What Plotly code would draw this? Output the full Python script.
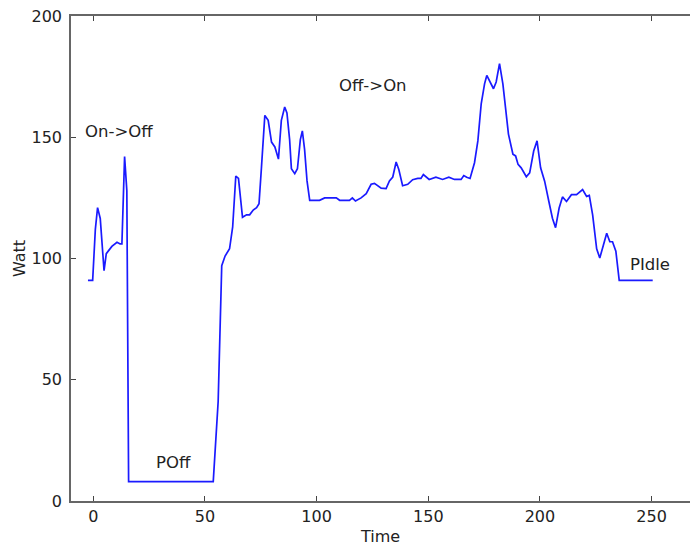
import plotly.graph_objects as go

time = [-2.4, -0.3, 0.9, 1.9, 3.1, 4.8, 5.8, 8.3, 10.6, 12.0, 12.8, 14.0, 15.0, 15.8,
        53.7, 55.9, 57.5, 59, 61, 62.4, 63.8, 65,
        66.8, 68.6, 70, 71.6, 73.1, 74.2, 75.3, 76.8, 78.3, 79.8,
        81.3, 82.9, 84.2, 85.7, 86.7, 87.9, 88.7, 90.2, 91.4, 92.7,
        93.6, 94.6, 95.7, 96.9, 101.3, 103.6, 108.8, 110.3, 114.7, 116,
        117.4, 119.9, 122.2, 124.4, 125.9, 128.9, 131.1, 132.6, 134.1, 135.6,
        136.8, 138.5, 140.8, 143, 145.3, 146.7, 147.8, 149.7, 150.4, 153.4,
        156.4, 159.2, 161.7, 164.7, 165.9, 167.2, 168.7, 170.7, 172.2, 173.7,
        175.2, 176.2, 177.7, 179.2, 180.4, 181.9, 183.4, 184.6, 185.9, 187.9,
        189.1, 190.2, 191.6, 193.9, 195.4, 197.2, 198.7, 200.3, 202.1, 204,
        205.6, 207, 208.6, 210.1, 211.9, 214.1, 216.4, 219.1, 220.9, 222.1,
        223.6, 225.4, 226.8, 228.4, 229.9, 231.3, 232.5, 234, 235.5, 250.5]

watt = [91, 91, 112, 121, 116.5, 95, 102, 105, 106.7, 106, 106, 142, 128, 8,
        8, 41, 97, 101, 104, 113, 134, 133,
        117, 118, 118, 120, 121, 122.6, 137.7, 159, 157, 148,
        146, 141, 157, 162.5, 160, 149, 137, 135, 137, 149,
        152.6, 145, 132, 124, 124, 125, 125, 124, 124, 125,
        123.7, 125, 126.7, 130.6, 131, 129, 128.8, 132, 133.6, 139.8,
        136.7, 130, 130.6, 132.5, 133, 133, 134.6, 133.2, 132.6, 133.5,
        132.6, 133.5, 132.6, 132.6, 134.2, 133.5, 133, 139.5, 148.5, 163.8,
        172, 175.5, 172.8, 170, 172.8, 180.4, 172, 162.4, 151.3, 143,
        142.3, 138.8, 137.4, 133.7, 135.3, 144.3, 148.5, 137.4, 131.9, 123.5,
        116.6, 112.7, 120.8, 125.4, 123.5, 126.3, 126.3, 128.4, 125.6, 126,
        118, 104, 100.2, 105.5, 110.4, 106.9, 106.9, 103, 91, 91]

x_ticks = [0, 50, 100, 150, 200, 250]
y_ticks = [0, 50, 100, 150, 200]

labels = ["On->Off", "Off->On", "POff", "PIdle"]
label_x = [11.7, 125.4, 36.0, 249.3]
label_y = [152.5, 171.4, 15.7, 97.7]

FONT = "DejaVu Sans"
TXT = "#222222"

fig = go.Figure()
fig.add_trace(go.Scatter(x=time, y=watt, mode="lines",
                         line=dict(color="#1a1aff", width=1.7),
                         showlegend=False, hoverinfo="skip"))

for t, xx, yy in zip(labels, label_x, label_y):
    fig.add_annotation(x=xx, y=yy, text=t, showarrow=False,
                       xanchor="center", yanchor="middle",
                       font=dict(family=FONT, size=16.5, color=TXT))

fig.update_layout(
    width=690, height=546,
    margin=dict(l=71, r=0, t=16, b=45),
    paper_bgcolor="white", plot_bgcolor="white",
    font=dict(family=FONT, size=16, color=TXT),
)
fig.update_xaxes(range=[-10, 267.2], tickvals=x_ticks, ticks="inside", ticklen=5,
                 tickwidth=1, tickcolor="#444", showline=True, linecolor="#666",
                 linewidth=1.6, mirror="ticks", showgrid=False, zeroline=False,
                 tickfont=dict(family=FONT, size=16, color=TXT),
                 title=dict(text="Time", standoff=7,
                            font=dict(family=FONT, size=16, color=TXT)))
fig.update_yaxes(range=[0, 200], tickvals=y_ticks, ticks="inside", ticklen=5,
                 tickwidth=1, tickcolor="#444", showline=True, linecolor="#666",
                 linewidth=1.6, mirror=False, showgrid=False, zeroline=False,
                 ticklabelstandoff=4,
                 tickfont=dict(family=FONT, size=16, color=TXT),
                 title=dict(text="Watt", standoff=2,
                            font=dict(family=FONT, size=16, color=TXT)))

fig.write_html("out.html")
